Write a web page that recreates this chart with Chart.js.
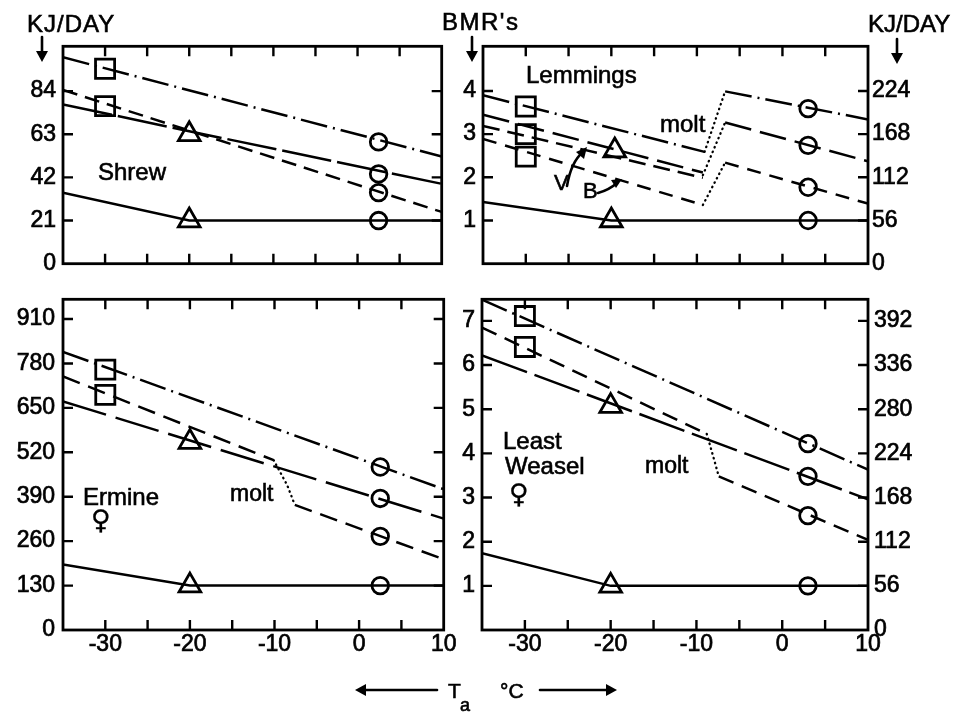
<!DOCTYPE html>
<html><head><meta charset="utf-8">
<script src="https://cdn.jsdelivr.net/npm/chart.js@4"></script>
<style>
html,body{margin:0;padding:0;background:#fff;}
body{width:970px;height:716px;position:relative;overflow:hidden;font-family:'Liberation Sans',Arial,sans-serif;color:#000;}
canvas{position:absolute;}
.t{position:absolute;white-space:nowrap;line-height:1;-webkit-text-stroke:0.6px #000;}
svg{position:absolute;left:0;top:0;}
</style></head><body>
<canvas id="cShrew"></canvas>
<canvas id="cLem"></canvas>
<canvas id="cErm"></canvas>
<canvas id="cWea"></canvas>
<svg width="970" height="716" viewBox="0 0 970 716">
  <g stroke="#000" stroke-width="2.6" fill="none" stroke-linecap="round">
    <line x1="42" y1="37" x2="42" y2="55"/>
    <line x1="472" y1="37" x2="472" y2="55"/>
    <line x1="897" y1="39" x2="897" y2="57"/>
    <path d="M567,186 Q571,162 583,152"/>
    <path d="M598,193 Q609,190 617,183"/>
    <line x1="360" y1="690" x2="437" y2="690"/>
    <line x1="540" y1="690" x2="612" y2="690"/>
  </g>
  <g fill="#000">
    <polygon points="36,51 48,51 42,62"/>
    <polygon points="466,51 478,51 472,62"/>
    <polygon points="891,53 903,53 897,64"/>
    <polygon points="587,147 576,152 584,159"/>
    <polygon points="622,179 611,180 616,188"/>
    <polygon points="355,690 366,684 366,696"/>
    <polygon points="617,690 606,684 606,696"/>
  </g>
</svg>
<script>
// ---------------- DATA ----------------
// Temperature axis (deg C)
const xMin = -35, xMax = 10;
const xTickMarks = [-30, -25, -20, -15, -10, -5, 0, 5];
const xLabelVals = [-30, -20, -10, 0, 10];
const xLabels = ['-30', '-20', '-10', '0', '10'];

// kJ per BMR unit in each panel
const shrewKJperBMR = 21, lemKJperBMR = 56, ermKJperBMR = 130, weaKJperBMR = 56;

// ---- Shrew (kJ/day) ----
const shrewKJTicks = [0, 21, 42, 63, 84];
const shrewBMRTicks = [1, 2, 3, 4];
const shrewDashDotX = [-35, 10],      shrewDashDotY = [100.5, 52.2];
const shrewLongX = [-35, -20, 10],    shrewLongY = [77.5, 64.5, 38.9];
const shrewDashX = [-35, 10],         shrewDashY = [84.6, 25.2];
const shrewSolidX = [-35, -20, 10],   shrewSolidY = [34.6, 21, 21];
const shrewSquareX = [-30, -30],      shrewSquareY = [94.9, 76.7];
const shrewTriangleX = [-20, -20],    shrewTriangleY = [63, 21];
const shrewCircleX = [2.5, 2.5, 2.5, 2.5], shrewCircleY = [59.3, 43.7, 34.6, 21];

// ---- Lemmings (BMR's) ----
const lemBMRTicks = [1, 2, 3, 4];
const lemKJTicks = [0, 56, 112, 168, 224];
const lemDashDotPreX = [-35, -9.1],  lemDashDotPreY = [3.90, 2.59];
const lemDashDotPostX = [-6.7, 10],  lemDashDotPostY = [3.99, 3.34];
const lemLongPreX = [-35, -9.3],     lemLongPreY = [3.45, 2.11];
const lemLongPostX = [-6.7, 10],     lemLongPostY = [3.27, 2.37];
const lemMidPreX = [-35, -9.3],      lemMidPreY = [3.19, 1.99];
const lemDashPreX = [-35, -9.3],     lemDashPreY = [2.89, 1.36];
const lemDashPostX = [-6.7, 10],     lemDashPostY = [2.34, 1.39];
const lemMolt1X = [-9.1, -6.7],      lemMolt1Y = [2.59, 3.99];
const lemMolt2X = [-9.3, -6.7],      lemMolt2Y = [2.05, 3.27];
const lemMolt3X = [-9.3, -6.7],      lemMolt3Y = [1.36, 2.34];
const lemSolidX = [-35, -20, 10],    lemSolidY = [1.43, 1, 1];
const lemSquareX = [-30, -30, -30],  lemSquareY = [3.64, 3.0, 2.48];
const lemTriangleX = [-19.6, -20],   lemTriangleY = [2.62, 1];
const lemCircleX = [3, 3, 3, 3],     lemCircleY = [3.59, 2.74, 1.77, 1];

// ---- Ermine female (kJ/day) ----
const ermKJTicks = [0, 130, 260, 390, 520, 650, 780, 910];
const ermBMRTicks = [1, 2, 3, 4, 5, 6, 7];
const ermDashDotX = [-35, 10],        ermDashDotY = [814, 412];
const ermDashPreX = [-35, -10.1],     ermDashPreY = [742, 497];
const ermMoltX = [-10.1, -8.5, -7.6], ermMoltY = [497, 424, 366];
const ermDashPostX = [-7.6, 10],      ermDashPostY = [366, 207];
const ermLongX = [-35, 10],           ermLongY = [669, 326];
const ermSolidX = [-35, -20, 10],     ermSolidY = [192, 130, 130];
const ermSquareX = [-30, -30],        ermSquareY = [762, 688];
const ermTriangleX = [-20, -20],      ermTriangleY = [550, 130];
const ermCircleX = [2.5, 2.5, 2.5, 2.5], ermCircleY = [477, 385, 274, 130];

// ---- Least Weasel female (BMR's) ----
const weaBMRTicks = [1, 2, 3, 4, 5, 6, 7];
const weaKJTicks = [0, 56, 112, 168, 224, 280, 336, 392];
const weaDashDotX = [-35, 10],        weaDashDotY = [7.48, 3.63];
const weaDashPreX = [-35, -8.8],      weaDashPreY = [6.85, 4.44];
const weaMoltX = [-8.8, -8.0, -7.4],  weaMoltY = [4.44, 3.9, 3.48];
const weaDashPostX = [-7.4, 10],      weaDashPostY = [3.48, 2.04];
const weaLongX = [-35, 10],           weaLongY = [6.22, 2.96];
const weaSolidX = [-35, -20, 10],     weaSolidY = [1.74, 1, 1];
const weaSquareX = [-30, -30],        weaSquareY = [7.11, 6.41];
const weaTriangleX = [-20, -20],      weaTriangleY = [5.07, 1];
const weaCircleX = [3, 3, 3, 3],      weaCircleY = [4.22, 3.48, 2.59, 1];

// ---------------- HELPERS ----------------
const FONT = "'Liberation Sans', Arial, sans-serif";
const zip = (xs, ys) => xs.map((x, i) => ({x: x, y: ys[i]}));
const DASHDOT = [27, 6, 2, 6];
function lineDs(xs, ys, dash, w) {
  return {data: zip(xs, ys), showLine: true, borderColor: '#000', borderWidth: w || 2.5,
    borderDash: dash, pointRadius: 0, pointHoverRadius: 0, fill: false, tension: 0, yAxisID: 'y'};
}
function dotDs(xs, ys) {
  return {data: zip(xs, ys), showLine: true, borderColor: '#000', borderWidth: 2.3,
    borderDash: [0.5, 4.5], borderCapStyle: 'round', pointRadius: 0, pointHoverRadius: 0,
    fill: false, tension: 0, yAxisID: 'y'};
}
function markDs(xs, ys, style, r) {
  return {data: zip(xs, ys), showLine: false, pointStyle: style, pointRadius: r, pointHoverRadius: r,
    pointBorderWidth: 2.8, pointBorderColor: '#000', pointBackgroundColor: 'rgba(0,0,0,0)', yAxisID: 'y'};
}
function markers(sx, sy, tx, ty, cx, cy) {
  return [markDs(sx, sy, 'rect', 13.5), markDs(tx, ty, 'triangle', 12.5), markDs(cx, cy, 'circle', 8.3)];
}

const frameTicks = {
  id: 'frameTicks',
  afterDatasetsDraw(chart, args, o) {
    const ctx = chart.ctx, a = chart.chartArea, s = chart.scales, L = 10;
    ctx.save();
    ctx.strokeStyle = '#000';
    ctx.lineWidth = 2.8;
    ctx.strokeRect(a.left, a.top, a.right - a.left, a.bottom - a.top);
    ctx.lineWidth = 2.4;
    ctx.beginPath();
    (o.xm || []).forEach(v => {
      const p = s.x.getPixelForValue(v);
      ctx.moveTo(p, a.bottom); ctx.lineTo(p, a.bottom - L);
      ctx.moveTo(p, a.top); ctx.lineTo(p, a.top + L);
    });
    (o.ym || []).forEach(v => {
      const p = s.y.getPixelForValue(v);
      ctx.moveTo(a.left, p); ctx.lineTo(a.left + L, p);
    });
    (o.y2m || []).forEach(v => {
      const p = s.y2.getPixelForValue(v);
      ctx.moveTo(a.right, p); ctx.lineTo(a.right - L, p);
    });
    ctx.stroke();
    ctx.restore();
  }
};

function zeroPad(s) { s.paddingTop = 0; s.paddingBottom = 0; s.paddingLeft = 0; s.paddingRight = 0; }

function makePanel(id, box, area, p) {
  const cv = document.getElementById(id);
  cv.style.left = box.L + 'px'; cv.style.top = box.T + 'px';
  cv.width = box.W; cv.height = box.H;
  const wl = area.l - box.L, wr = box.L + box.W - area.r, pt = area.t - box.T, hx = box.T + box.H - area.b;
  const font = {family: FONT, size: 23};
  const yAxis = (pos, min, max, vals, showLabels, pad, width) => ({
    type: 'linear', position: pos, min: min, max: max,
    grid: {display: false, drawTicks: false}, border: {display: false},
    afterBuildTicks: s => { s.ticks = vals.map(v => ({value: v})); },
    ticks: {display: showLabels, padding: pad, font: font, color: '#000', autoSkip: false,
      textStrokeColor: '#000', textStrokeWidth: 0.7, callback: v => String(v)},
    afterFit: s => { s.width = width; zeroPad(s); }
  });
  new Chart(cv, {
    type: 'scatter',
    data: {datasets: p.datasets},
    options: {
      responsive: false, animation: false, devicePixelRatio: 1, events: [],
      layout: {padding: {top: pt, left: 0, right: 0, bottom: 0}},
      plugins: {legend: {display: false}, tooltip: {enabled: false},
        frameTicks: {xm: xTickMarks, ym: p.yMarks, y2m: p.y2Marks}},
      scales: {
        x: {type: 'linear', position: 'bottom', min: xMin, max: xMax,
          grid: {display: false, drawTicks: false}, border: {display: false},
          afterBuildTicks: s => { s.ticks = xLabelVals.map(v => ({value: v})); },
          ticks: {display: p.showX, padding: 1, font: font, color: '#000', autoSkip: false,
            textStrokeColor: '#000', textStrokeWidth: 0.7,
            maxRotation: 0, minRotation: 0, callback: (v, i) => xLabels[i]},
          afterFit: s => { s.height = hx; zeroPad(s); }},
        y: yAxis('left', 0, p.yMax, p.yVals, p.yLabels, p.yPad, wl),
        y2: yAxis('right', 0, p.yMax * p.factor, p.y2Vals, p.y2Labels, p.y2Pad, wr)
      }
    },
    plugins: [frameTicks]
  });
}

// ---------------- PANELS ----------------
makePanel('cShrew', {L: 0, T: 30, W: 458, H: 250}, {l: 63, t: 42, r: 455, b: 265}, {
  yMax: 223 / 44.25 * shrewKJperBMR, factor: 1 / shrewKJperBMR,
  yVals: shrewKJTicks, yLabels: true, yPad: 7, y2Vals: shrewBMRTicks, y2Labels: false, y2Pad: 0,
  yMarks: shrewKJTicks.slice(1), y2Marks: shrewBMRTicks, showX: false,
  datasets: [
    lineDs(shrewDashDotX, shrewDashDotY, DASHDOT),
    lineDs(shrewLongX, shrewLongY, [50, 6]),
    lineDs(shrewDashX, shrewDashY, [15, 8]),
    lineDs(shrewSolidX, shrewSolidY, []),
    ...markers(shrewSquareX, shrewSquareY, shrewTriangleX, shrewTriangleY, shrewCircleX, shrewCircleY)
  ]
});

makePanel('cLem', {L: 458, T: 30, W: 512, H: 250}, {l: 483, t: 43, r: 868, b: 267}, {
  yMax: 224 / 44.5, factor: lemKJperBMR,
  yVals: lemBMRTicks, yLabels: true, yPad: 7, y2Vals: lemKJTicks, y2Labels: true, y2Pad: 4,
  yMarks: lemBMRTicks, y2Marks: lemKJTicks.slice(1), showX: false,
  datasets: [
    lineDs(lemDashDotPreX, lemDashDotPreY, DASHDOT),
    lineDs(lemDashDotPostX, lemDashDotPostY, DASHDOT),
    lineDs(lemLongPreX, lemLongPreY, [27, 9]),
    lineDs(lemLongPostX, lemLongPostY, [27, 9]),
    lineDs(lemMidPreX, lemMidPreY, [17, 8]),
    lineDs(lemDashPreX, lemDashPreY, [14, 9]),
    lineDs(lemDashPostX, lemDashPostY, [14, 9]),
    dotDs(lemMolt1X, lemMolt1Y), dotDs(lemMolt2X, lemMolt2Y), dotDs(lemMolt3X, lemMolt3Y),
    lineDs(lemSolidX, lemSolidY, []),
    ...markers(lemSquareX, lemSquareY, lemTriangleX, lemTriangleY, lemCircleX, lemCircleY)
  ]
});

makePanel('cErm', {L: 0, T: 283, W: 460, H: 382}, {l: 63, t: 295, r: 457, b: 630}, {
  yMax: 335 / 45 * ermKJperBMR, factor: 1 / ermKJperBMR,
  yVals: ermKJTicks, yLabels: true, yPad: 8, y2Vals: ermBMRTicks, y2Labels: false, y2Pad: 0,
  yMarks: ermKJTicks.slice(1), y2Marks: ermBMRTicks, showX: true,
  datasets: [
    lineDs(ermDashDotX, ermDashDotY, DASHDOT),
    lineDs(ermDashPreX, ermDashPreY, [18, 9]),
    dotDs(ermMoltX, ermMoltY),
    lineDs(ermDashPostX, ermDashPostY, [18, 9]),
    lineDs(ermLongX, ermLongY, [45, 10]),
    lineDs(ermSolidX, ermSolidY, []),
    ...markers(ermSquareX, ermSquareY, ermTriangleX, ermTriangleY, ermCircleX, ermCircleY)
  ]
});

makePanel('cWea', {L: 460, T: 283, W: 510, H: 382}, {l: 482, t: 293, r: 868, b: 630}, {
  yMax: 337 / 45, factor: weaKJperBMR,
  yVals: weaBMRTicks, yLabels: true, yPad: 7, y2Vals: weaKJTicks, y2Labels: true, y2Pad: 6,
  yMarks: weaBMRTicks, y2Marks: weaKJTicks.slice(1), showX: true,
  datasets: [
    lineDs(weaDashDotX, weaDashDotY, DASHDOT),
    lineDs(weaDashPreX, weaDashPreY, [16, 9]),
    dotDs(weaMoltX, weaMoltY),
    lineDs(weaDashPostX, weaDashPostY, [16, 9]),
    lineDs(weaLongX, weaLongY, [48, 8]),
    lineDs(weaSolidX, weaSolidY, []),
    ...markers(weaSquareX, weaSquareY, weaTriangleX, weaTriangleY, weaCircleX, weaCircleY)
  ]
});

// ---------------- TEXT ----------------
function txt(s, x, capTop, size, extra) {
  const d = document.createElement('div');
  d.className = 't';
  d.textContent = s;
  d.style.left = x + 'px';
  d.style.top = (capTop - 0.13 * size) + 'px';
  d.style.fontSize = size + 'px';
  if (extra) Object.assign(d.style, extra);
  document.body.appendChild(d);
}
txt('KJ/DAY', 27, 15, 24, {letterSpacing: '1px'});
txt("BMR's", 442, 13, 24, {letterSpacing: '1.5px'});
txt('KJ/DAY', 868, 15, 24, {letterSpacing: '0px'});
txt('Shrew', 98, 163, 24);
txt('Lemmings', 526, 66, 24);
txt('molt', 660, 115, 24);
txt('V', 554, 175, 22);
txt('B', 583, 183, 22);
txt('Ermine', 83, 488, 24);
txt('\u2640', 91, 510, 27, {fontFamily: "'DejaVu Sans'", webkitTextStroke: '0.3px #000'});
txt('molt', 230, 485, 23);
txt('Least', 503, 432, 24);
txt('Weasel', 505, 457, 24);
txt('\u2640', 509, 484, 27, {fontFamily: "'DejaVu Sans'", webkitTextStroke: '0.3px #000'});
txt('molt', 645, 457, 23);
txt('T', 448, 683, 21);
txt('a', 460, 698, 18);
txt('\u00B0C', 500, 683, 21);
</script>
</body></html>
